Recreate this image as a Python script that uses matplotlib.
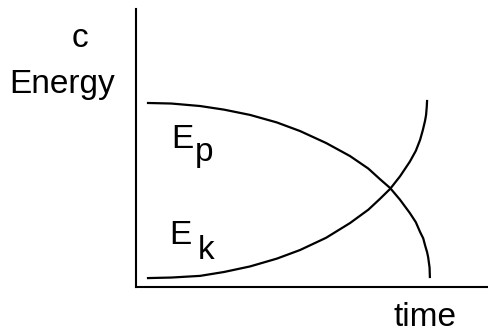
import matplotlib
matplotlib.use('Agg')
import matplotlib.pyplot as plt

# energy curves (time, energy), axes span 0..10 both ways
ep_time = [0.31, 1.0, 1.82, 2.5, 3.24, 4.0, 4.66, 5.4, 6.08, 6.6, 6.93, 7.22, 7.5, 7.78, 7.95, 8.07, 8.16, 8.21, 8.27, 8.30, 8.34, 8.35]
ep_energy = [6.62, 6.60, 6.51, 6.38, 6.19, 5.92, 5.61, 5.18, 4.71, 4.26, 3.88, 3.56, 3.14, 2.66, 2.33, 1.98, 1.75, 1.51, 1.25, 1.07, 0.70, 0.32]

ek_time = [0.31, 1.0, 1.82, 2.5, 3.24, 4.0, 4.66, 5.4, 6.08, 6.6, 6.93, 7.22, 7.5, 7.78, 7.95, 8.07, 8.15, 8.21, 8.24, 8.26, 8.27]
ek_energy = [0.32, 0.34, 0.40, 0.54, 0.74, 1.02, 1.33, 1.77, 2.30, 2.78, 3.17, 3.53, 3.98, 4.51, 4.90, 5.29, 5.65, 5.97, 6.18, 6.48, 6.73]

fig = plt.figure(figsize=(4.89, 3.34), dpi=100)
ax = fig.add_axes([136 / 489, 1 - 287 / 334, 352 / 489, 278 / 334])

ax.plot(ep_time, ep_energy, color='black', lw=1.6, solid_capstyle='butt')
ax.plot(ek_time, ek_energy, color='black', lw=1.6, solid_capstyle='butt')

ax.set_xlim(0, 10)
ax.set_ylim(0, 10)
ax.spines['top'].set_visible(False)
ax.spines['right'].set_visible(False)
for s in ['left', 'bottom']:
    ax.spines[s].set_linewidth(1.5)
ax.set_xticks([])
ax.set_yticks([])

font = dict(family='Liberation Sans', fontsize=24, color='black', clip_on=False)
ax.text(1.0, 5.0, 'E', ha='left', va='baseline', **font)
ax.text(1.66, 4.55, 'p', ha='left', va='baseline', **font)
ax.text(0.95, 1.55, 'E', ha='left', va='baseline', **font)
ax.text(1.76, 1.0, 'k', ha='left', va='baseline', **font)
ax.text(8.21, -1.40, 'time', ha='center', va='baseline', **font)
ax.text(-2.10, 6.98, 'Energy', ha='center', va='baseline', **font)
ax.text(-1.59, 8.63, 'c', ha='center', va='baseline', **font)

fig.savefig('out.png', dpi=100)
